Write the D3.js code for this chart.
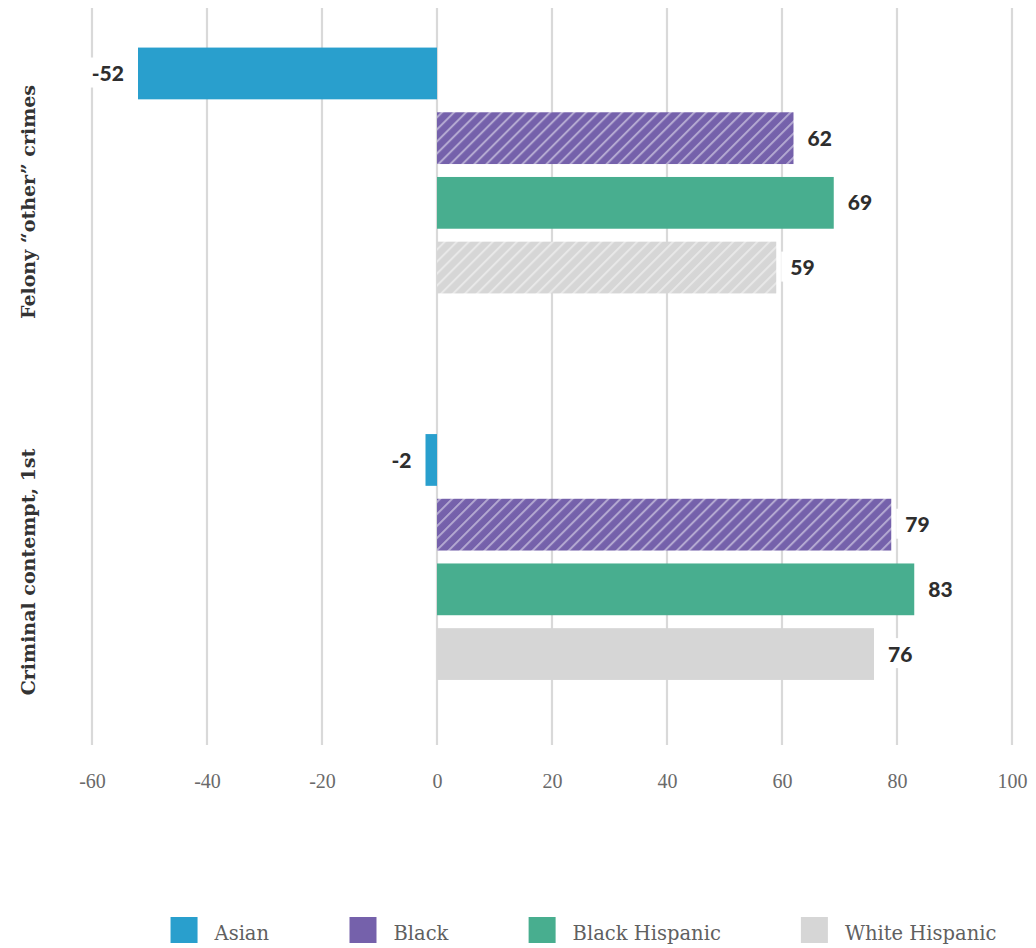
<!DOCTYPE html>
<html>
<head>
<meta charset="utf-8">
<script src="https://cdn.jsdelivr.net/npm/d3@7/dist/d3.min.js"></script>
<style>
  html, body { margin: 0; padding: 0; background: #fff; }
  svg { display: block; }
</style>
</head>
<body>
<svg id="chart" width="1036" height="948"></svg>
<script>
// Offence categories (one group of bars each)
const categories = ["Felony \u201cother\u201d crimes", "Criminal contempt, 1st"];

// Series and their values per category
const seriesNames = ["Asian", "Black", "Black Hispanic", "White Hispanic"];
const asianValues = [-52, -2];
const blackValues = [62, 79];
const blackHispanicValues = [69, 83];
const whiteHispanicValues = [59, 76];

// Which bars are drawn with a hatched fill, per category
const asianHatched = [false, false];
const blackHatched = [true, true];
const blackHispanicHatched = [false, false];
const whiteHispanicHatched = [true, false];

// Axis ticks
const xTicks = [-60, -40, -20, 0, 20, 40, 60, 80, 100];

const seriesColors = ["#299fcd", "#7561ab", "#48ae8f", "#d6d6d6"];

const seriesValues = [asianValues, blackValues, blackHispanicValues, whiteHispanicValues];
const seriesHatched = [asianHatched, blackHatched, blackHispanicHatched, whiteHispanicHatched];

const rows = [];
categories.forEach((cat, ci) => {
  seriesNames.forEach((s, si) => {
    rows.push({ category: cat, series: s, si, value: seriesValues[si][ci], hatched: seriesHatched[si][ci] });
  });
});

const svg = d3.select("#chart");

const x = d3.scaleLinear().domain([-60, 100]).range([92, 1012]);

// group bands for the bars
const yGroup = d3.scaleBand().domain(categories).range([-22.75, 750.25]).padding(0);
const ySeries = d3.scaleBand().domain(seriesNames).range([0, yGroup.bandwidth()])
  .paddingInner(0.2).paddingOuter(1.087);
// band scale for the rotated category labels
const yLabel = d3.scaleBand().domain(categories).range([17, 757]).padding(0);

const gridTop = 8, gridBottom = 745;

// hatch patterns
const defs = svg.append("defs");
seriesNames.forEach((s, si) => {
  const p = defs.append("pattern")
    .attr("id", "hatch-" + si)
    .attr("patternUnits", "userSpaceOnUse")
    .attr("width", 8.5).attr("height", 8.5)
    .attr("patternTransform", "rotate(45)");
  p.append("rect").attr("width", 8.5).attr("height", 8.5).attr("fill", seriesColors[si]);
  p.append("line")
    .attr("x1", 1).attr("y1", 0).attr("x2", 1).attr("y2", 8.5)
    .attr("stroke", "#ffffff").attr("stroke-opacity", 0.45).attr("stroke-width", 2);
});

// vertical gridlines
svg.append("g").selectAll("line").data(xTicks).join("line")
  .attr("x1", d => x(d)).attr("x2", d => x(d))
  .attr("y1", gridTop).attr("y2", gridBottom)
  .attr("stroke", "#d9d9d9").attr("stroke-width", 2.2);

// x axis tick labels (plain hyphen for negatives)
const xAxis = d3.axisBottom(x).tickValues(xTicks).tickSize(0).tickPadding(0)
  .tickFormat(d => String(d));
const gx = svg.append("g").attr("transform", `translate(0,${gridBottom})`).call(xAxis);
gx.select(".domain").remove();
gx.selectAll("text")
  .attr("y", 43).attr("dy", null)
  .attr("fill", "#6a6a6a")
  .style("font-family", "'Liberation Serif', serif")
  .style("font-size", "20px");

// bars
const barG = svg.append("g");
barG.selectAll("rect").data(rows).join("rect")
  .attr("x", d => x(Math.min(0, d.value)))
  .attr("width", d => Math.abs(x(d.value) - x(0)))
  .attr("y", d => yGroup(d.category) + ySeries(d.series))
  .attr("height", ySeries.bandwidth())
  .attr("fill", d => d.hatched ? `url(#hatch-${d.si})` : seriesColors[d.si]);

// value labels with a white backing
const labelG = svg.append("g");
const labels = labelG.selectAll("g").data(rows).join("g");
const labelGap = 14;
labels.append("rect").attr("fill", "#fff");
labels.append("text")
  .attr("x", d => d.value >= 0 ? x(d.value) + labelGap : x(d.value) - labelGap)
  .attr("y", d => yGroup(d.category) + ySeries(d.series) + ySeries.bandwidth() / 2)
  .attr("dy", "0.36em")
  .attr("text-anchor", d => d.value >= 0 ? "start" : "end")
  .attr("fill", "#2e2e2e")
  .style("font-family", "Lato, sans-serif")
  .style("font-weight", "900")
  .style("font-size", "21px")
  .text(d => d.value);
labels.each(function () {
  const g = d3.select(this);
  const bb = g.select("text").node().getBBox();
  g.select("rect")
    .attr("x", bb.x - 9).attr("width", bb.width + 18)
    .attr("y", bb.y + bb.height / 2 - 15).attr("height", 30);
});

// rotated category labels
svg.append("g").selectAll("text").data(categories).join("text")
  .attr("transform", d => `translate(35,${yLabel(d) + yLabel.bandwidth() / 2}) rotate(-90)`)
  .attr("text-anchor", "middle")
  .attr("fill", "#333")
  .style("font-family", "'DejaVu Serif', serif")
  .style("font-weight", "700")
  .style("font-size", "19px")
  .text(d => d);

// legend
const legend = svg.append("g");
const swatchW = 27, swatchH = 26, textGap = 17, itemGap = 80;
const items = legend.selectAll("g").data(seriesNames).join("g");
items.append("rect")
  .attr("width", swatchW).attr("height", swatchH)
  .attr("fill", (d, i) => seriesColors[i]);
items.append("text")
  .attr("x", swatchW + textGap).attr("y", 23)
  .attr("fill", "#606060")
  .style("font-family", "'DejaVu Serif', serif")
  .style("font-size", "19.5px")
  .text(d => d);
let widths = [];
items.each(function () { widths.push(this.getBBox().width); });
const totalW = d3.sum(widths) + itemGap * (widths.length - 1);
let cx = 583.5 - totalW / 2;
items.attr("transform", (d, i) => {
  const t = `translate(${cx},917)`;
  cx += widths[i] + itemGap;
  return t;
});
</script>
</body>
</html>
